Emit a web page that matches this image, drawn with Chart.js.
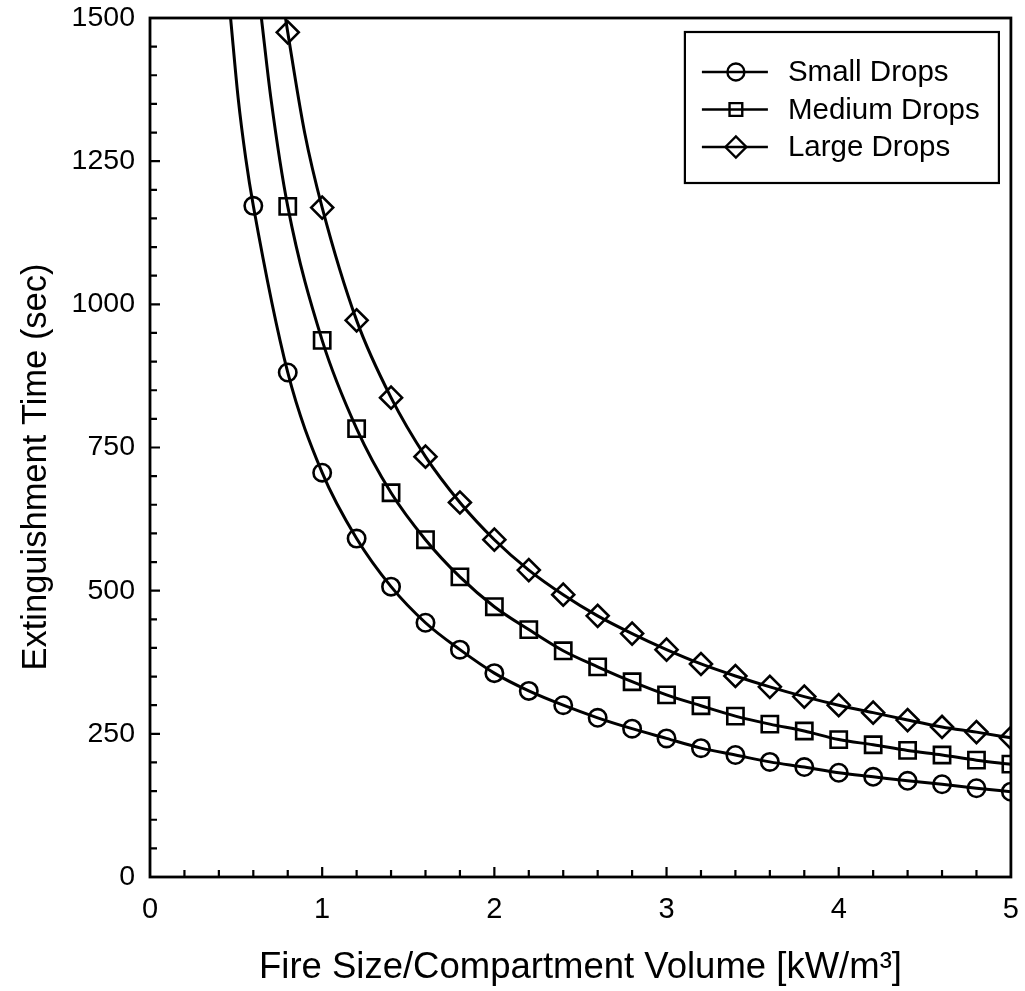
<!DOCTYPE html>
<html>
<head>
<meta charset="utf-8">
<script src="https://cdn.jsdelivr.net/npm/chart.js@4.4.1/dist/chart.umd.min.js"></script>
<style>
  html, body { margin: 0; padding: 0; background: #fff; }
  #wrap { width: 1025px; height: 991px; }
</style>
</head>
<body>
<div id="wrap"><canvas id="chart" width="1025" height="991"></canvas></div>
<script>
// Fire size per compartment volume [kW/m³] at which each marker sits
const fireSize = [0.6, 0.8, 1.0, 1.2, 1.4, 1.6, 1.8, 2.0, 2.2, 2.4, 2.6, 2.8,
                  3.0, 3.2, 3.4, 3.6, 3.8, 4.0, 4.2, 4.4, 4.6, 4.8, 5.0];

// Extinguishment time (sec); small drops start at 0.6, the others at 0.8
const smallDrops  = [1172, 881, 706, 591, 507, 444, 397, 356, 325, 300, 278, 259,
                     242, 225, 213, 201, 192, 182, 175, 168, 162, 155, 149];
const mediumDrops = [1171, 937, 783, 671, 589, 524, 472, 432, 395, 367, 341,
                     318, 299, 281, 267, 255, 240, 231, 221, 213, 204, 197];
const largeDrops  = [1475, 1169, 972, 837, 734, 654, 589, 536, 493, 456, 425,
                     397, 372, 351, 332, 315, 300, 287, 274, 262, 253, 243];

// Curve-only points: where each curve leaves the top of the frame and runs down to its first markers
const smallLeadX  = [0.468, 0.512, 0.556];
const smallLeadY  = [1500, 1360, 1255];
const mediumLeadX = [0.647, 0.702];
const mediumLeadY = [1500, 1360];
const largeLeadX  = [0.787, 0.898];
const largeLeadY  = [1500, 1300];

const seriesNames = ['Small Drops', 'Medium Drops', 'Large Drops'];
const xMajorTicks = [0, 1, 2, 3, 4, 5];
const yMajorTicks = [0, 250, 500, 750, 1000, 1250, 1500];

const FONT = '"Liberation Sans", Arial, Helvetica, sans-serif';

const toPoints = (xs, ys) => ys.map((v, i) => ({ x: xs[i], y: v }));
const isOn = (v, list) => list.some(m => Math.abs(m - v) < 1e-6);

const markerX = [fireSize, fireSize.slice(1), fireSize.slice(1)];
const values  = [smallDrops, mediumDrops, largeDrops];
const curveExtras = [
  toPoints(smallLeadX, smallLeadY),
  toPoints(mediumLeadX, mediumLeadY),
  toPoints(largeLeadX, largeLeadY)
];
const styles  = [
  { pointStyle: 'circle',  radius: 8.7, legendRadius: 8.5 },
  { pointStyle: 'rect',    radius: 11.5, legendRadius: 9 },
  { pointStyle: 'rectRot', radius: 11, legendRadius: 10.5 }
];

const datasets = [];
values.forEach((vals, i) => {
  // smooth curve through the series
  const curve = curveExtras[i].concat(toPoints(markerX[i], vals)).sort((p, q) => p.x - q.x);
  datasets.push({
    label: seriesNames[i] + ' curve',
    data: curve,
    showLine: true,
    borderColor: '#000',
    borderWidth: 3,
    pointRadius: 0,
    pointHoverRadius: 0,
    cubicInterpolationMode: 'monotone',
    fill: false
  });
  // open markers on the curve
  datasets.push({
    label: seriesNames[i],
    data: toPoints(markerX[i], vals),
    showLine: false,
    pointStyle: styles[i].pointStyle,
    pointRadius: styles[i].radius,
    pointHoverRadius: styles[i].radius,
    pointBorderWidth: 2.6,
    pointBorderColor: '#000',
    pointBackgroundColor: 'rgba(0,0,0,0)'
  });
});

// White page, frame, inward tick marks, legend box and axis titles
const decorations = {
  id: 'decorations',
  beforeDraw(chart) {
    const { ctx, width, height } = chart;
    ctx.save();
    ctx.fillStyle = '#fff';
    ctx.fillRect(0, 0, width, height);
    ctx.restore();
  },
  afterDatasetsDraw(chart) {
    const { ctx, chartArea: a, scales: { x, y } } = chart;
    ctx.save();
    ctx.strokeStyle = '#000';
    ctx.lineWidth = 2.2;
    ctx.beginPath();
    x.ticks.forEach(t => {
      const px = x.getPixelForValue(t.value);
      if (px <= a.left + 1 || px >= a.right - 1) return;
      const len = isOn(t.value, xMajorTicks) ? 10 : 7;
      ctx.moveTo(px, a.bottom);
      ctx.lineTo(px, a.bottom - len);
    });
    y.ticks.forEach(t => {
      const py = y.getPixelForValue(t.value);
      if (py <= a.top + 1 || py >= a.bottom - 1) return;
      const len = isOn(t.value, yMajorTicks) ? 10 : 7;
      ctx.moveTo(a.left, py);
      ctx.lineTo(a.left + len, py);
    });
    ctx.stroke();
    ctx.lineWidth = 2.8;
    ctx.strokeRect(a.left, a.top, a.right - a.left, a.bottom - a.top);
    ctx.restore();
  },
  afterDraw(chart) {
    const { ctx, chartArea: a } = chart;
    ctx.save();
    ctx.strokeStyle = '#000';

    // legend
    const boxL = a.right - 326, boxT = a.top + 14, boxW = 314, boxH = 151;
    ctx.lineWidth = 2.2;
    ctx.strokeRect(boxL, boxT, boxW, boxH);
    seriesNames.forEach((name, i) => {
      const cy = boxT + 40 + i * 37.5;
      ctx.lineWidth = 2.4;
      ctx.beginPath();
      ctx.moveTo(boxL + 17, cy);
      ctx.lineTo(boxL + 83, cy);
      ctx.stroke();
      ctx.fillStyle = 'rgba(0,0,0,0)';
      Chart.helpers.drawPoint(ctx, {
        pointStyle: styles[i].pointStyle,
        radius: styles[i].legendRadius,
        borderWidth: 2.2
      }, boxL + 51, cy);
      ctx.fillStyle = '#000';
      ctx.font = '29.5px ' + FONT;
      ctx.textAlign = 'left';
      ctx.textBaseline = 'middle';
      ctx.fillText(name, boxL + 103, cy + 1);
    });

    // axis titles
    ctx.fillStyle = '#000';
    ctx.textAlign = 'center';
    ctx.textBaseline = 'alphabetic';
    ctx.font = '36.5px ' + FONT;
    ctx.fillText('Fire Size/Compartment Volume [kW/m³]', (a.left + a.right) / 2, 978);

    ctx.save();
    ctx.translate(46, 467);
    ctx.rotate(-Math.PI / 2);
    ctx.font = '34.5px ' + FONT;
    ctx.fillText('Extinguishment Time (sec)', 0, 0);
    ctx.restore();

    ctx.restore();
  }
};

new Chart(document.getElementById('chart'), {
  type: 'scatter',
  data: { datasets },
  options: {
    responsive: false,
    animation: false,
    events: [],
    layout: { padding: { left: 0, right: 12, top: 18, bottom: 0 } },
    plugins: {
      legend: { display: false },
      tooltip: { enabled: false },
      title: { display: false }
    },
    scales: {
      x: {
        type: 'linear',
        min: 0,
        max: 5,
        grid: { display: true, drawOnChartArea: false, drawTicks: false },
        border: { display: false },
        ticks: {
          stepSize: 0.2,
          autoSkip: false,
          maxRotation: 0,
          padding: 16,
          color: '#000',
          font: { family: FONT, size: 29 },
          callback: v => isOn(v, xMajorTicks) ? String(Math.round(v)) : ''
        },
        afterFit(scale) {
          scale.height = 114;
          scale.paddingLeft = 0;
          scale.paddingRight = 0;
        }
      },
      y: {
        type: 'linear',
        min: 0,
        max: 1500,
        grid: { display: true, drawOnChartArea: false, drawTicks: false },
        border: { display: false },
        ticks: {
          stepSize: 50,
          autoSkip: false,
          padding: 15,
          color: '#000',
          font: { family: FONT, size: 28.5 },
          callback: v => isOn(v, yMajorTicks) ? String(Math.round(v)) : ''
        },
        afterFit(scale) {
          scale.width = 150;
          scale.paddingTop = 0;
          scale.paddingBottom = 0;
        }
      }
    }
  },
  plugins: [decorations]
});
</script>
</body>
</html>
